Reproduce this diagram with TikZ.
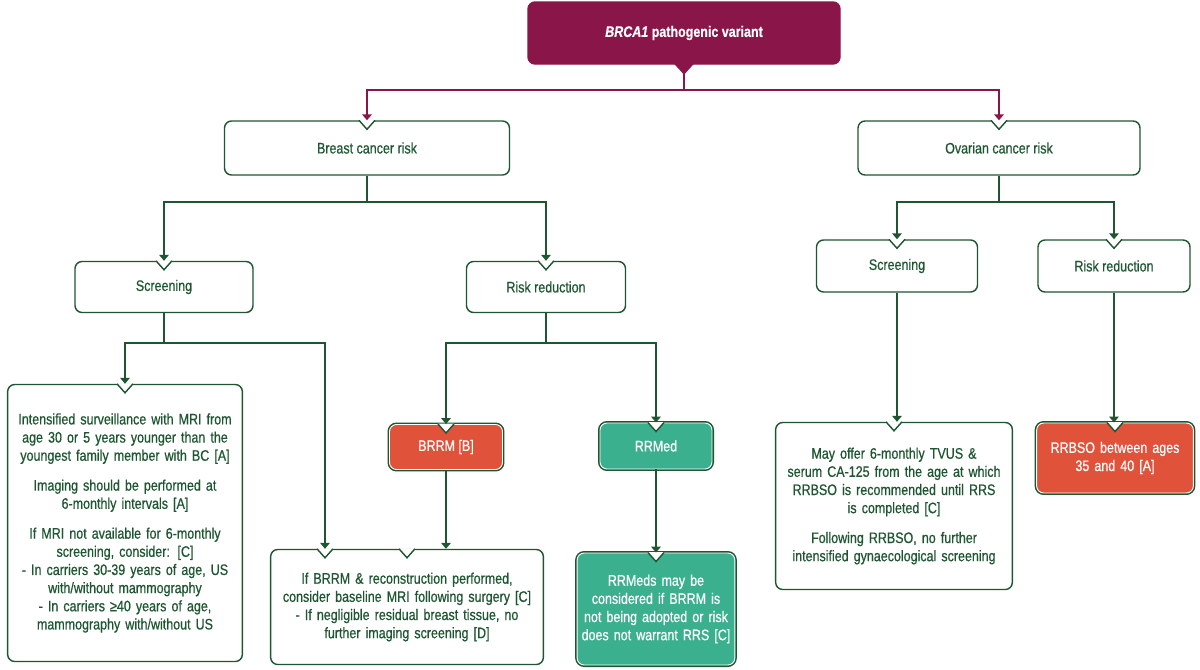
\documentclass[tikz,border=0pt]{standalone}
\usepackage{fontspec}
\setmainfont{Liberation Sans}[FakeStretch=0.82, FakeBold=0.6]
\usetikzlibrary{arrows.meta}
\definecolor{dkgreen}{HTML}{1E5631}
\definecolor{maroon}{HTML}{8A1548}
\definecolor{orng}{HTML}{E0533A}
\definecolor{teal}{HTML}{3BB08F}
\tikzset{
  box/.style={draw=dkgreen, line width=1.2pt, rounded corners=6pt, fill=white,
    text=dkgreen, align=center, font=\fontsize{13}{15.5}\selectfont, inner sep=2pt},
  filled/.style={box, draw=white, line width=0.8pt, text=white,
    preaction={draw=dkgreen, line width=3.4pt}},
  link/.style={draw=dkgreen, line width=1.2pt, -{Triangle[length=5pt,width=8pt]}},
  plain/.style={draw=dkgreen, line width=1.2pt},
}
% V-shaped notch in a box top
\newcommand{\notch}[2][dkgreen]{%
  \fill[white] (#2)+(-8,-0.5) -- +(0,9) -- +(8,-0.5) -- cycle;
  \draw[#1, line width=1.2pt] (#2)+(-8,0) -- +(0,9) -- +(8,0);}
\begin{document}
\begin{tikzpicture}[x=0.03cm, y=-0.03cm]
        \useasboundingbox (0,0) rectangle (1200,669);
        % boxes
        \node [box, fill=maroon, draw=maroon, text=white, font=\bfseries\fontsize{13}{15}\selectfont,
               minimum width=312*0.03cm, minimum height=62*0.03cm] (brca) at (684,33) {\textit{BRCA1} pathogenic variant};
        \fill [maroon] (brca.south)+(-10,-1) -- +(0,10) -- +(10,-1) -- cycle;
        \node [box, minimum width=285*0.03cm, minimum height=54*0.03cm] (breast) at (367,148) {Breast cancer risk};
        \node [box, minimum width=282*0.03cm, minimum height=54*0.03cm] (ovar) at (999,148) {Ovarian cancer risk};
        \node [box, minimum width=178*0.03cm, minimum height=51*0.03cm] (bscr) at (164,287) {Screening};
        \node [box, minimum width=159*0.03cm, minimum height=51*0.03cm] (brr) at (546,287) {Risk reduction};
        \node [box, minimum width=161*0.03cm, minimum height=52*0.03cm] (oscr) at (897,266) {Screening};
        \node [box, minimum width=152*0.03cm, minimum height=52*0.03cm] (orr) at (1114,266) {Risk reduction};
        \node [box, text width=230*0.03cm, minimum height=277*0.03cm] (mri) at (125,523)
          {Intensified surveillance with MRI from\\ age 30 or 5 years younger than the\\ youngest family member with BC [A]\\[10pt]
           Imaging should be performed at\\ 6-monthly intervals [A]\\[10pt]
           If MRI not available for 6-monthly\\ screening, consider: [C]\\
           - In carriers 30-39 years of age, US\\ with/without mammography\\
           - In carriers ≥40 years of age,\\ mammography with/without US};
        \node [filled, fill=orng, minimum width=113*0.03cm, minimum height=45*0.03cm] (brrm) at (446,447) {BRRM [B]};
        \node [filled, fill=teal, minimum width=112*0.03cm, minimum height=46*0.03cm] (rrmed) at (656,446) {RRMed};
        \node [box, text width=268*0.03cm, minimum height=115*0.03cm] (recon) at (407,607)
          {If BRRM \& reconstruction performed,\\ consider baseline MRI following surgery [C]\\
           - If negligible residual breast tissue, no\\ further imaging screening [D]};
        \node [filled, fill=teal, text width=153*0.03cm, minimum height=112*0.03cm] (rrmeds) at (656,609)
          {RRMeds may be\\ considered if BRRM is\\ not being adopted or risk\\ does not warrant RRS [C]};
        \node [box, text width=232*0.03cm, minimum height=167*0.03cm] (tvus) at (894,506)
          {May offer 6-monthly TVUS \&\\ serum CA-125 from the age at which\\ RRBSO is recommended until RRS\\ is completed [C]\\[10pt]
           Following RRBSO, no further\\ intensified gynaecological screening};
        \node [filled, fill=orng, text width=152*0.03cm, minimum height=70*0.03cm] (rrbso) at (1115,458)
          {RRBSO between ages\\ 35 and 40 [A]};
        % notches
        \foreach \n in {breast, ovar, bscr, brr, oscr, orr, mri, recon, tvus}
          {\notch{\n.north}}
        \notch{brrm.north} \notch{rrmed.north} \notch{rrmeds.north} \notch{rrbso.north}
        \notch{recon.north -| 325,0}
        % connectors
        \draw [maroon, line width=1.2pt] (brca.south) -- (684,90) coordinate (t);
        \draw [maroon, line width=1.2pt, -{Triangle[length=5pt,width=8pt]}] (t) -| (breast.north);
        \draw [maroon, line width=1.2pt, -{Triangle[length=5pt,width=8pt]}] (t) -| (ovar.north);
        \draw [plain] (breast.south) -- (367,202) coordinate (b);
        \draw [link] (b) -| (bscr.north);
        \draw [link] (b) -| (brr.north);
        \draw [plain] (ovar.south) -- (999,202) coordinate (o);
        \draw [link] (o) -| (oscr.north);
        \draw [link] (o) -| (orr.north);
        \draw [plain] (bscr.south) -- (164,343) coordinate (s);
        \draw [link] (s) -| (mri.north);
        \draw [link] (s) -| (recon.north -| 325,0);
        \draw [plain] (brr.south) -- (546,343) coordinate (r);
        \draw [link] (r) -| (brrm.north);
        \draw [link] (r) -| (rrmed.north);
        \draw [link] (brrm.south) -- (brrm.south |- recon.north);
        \draw [link] (rrmed) -- (rrmeds.north);
        \draw [link] (oscr) -- (oscr.south |- tvus.north);
        \draw [link] (orr) -- (orr.south |- rrbso.north);
\end{tikzpicture}
\end{document}
